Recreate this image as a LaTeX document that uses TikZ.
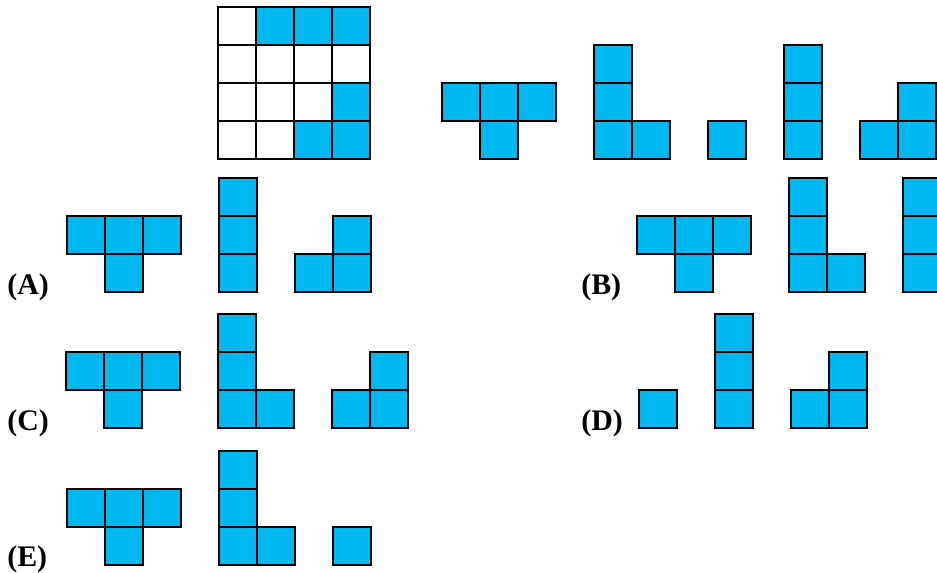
\documentclass[tikz,border=0pt]{standalone}
\usepackage{fontspec}
\setmainfont{Liberation Serif}
\usepackage{xcolor}
\usepackage{tikz}
\definecolor{tileblue}{RGB}{0, 184, 240}

\begin{document}
\begin{tikzpicture}[
    x=0.02cm, y=-0.02cm,
    tile/.style={draw=black, fill=tileblue, line width=0.9pt},
    blank/.style={draw=black, fill=white, line width=0.9pt},
    lbl/.style={anchor=base west, inner sep=0pt, font=\fontsize{17}{17}\selectfont\bfseries}
]
\clip (0,0) rectangle (937,573);

% 4x4 board
\foreach \i in {0,...,3}
  \foreach \j in {0,...,3}
    \draw[blank] (218+38*\i,7+38*\j) rectangle ++(38,38);
\foreach \x/\y in {256/7, 294/7, 332/7, 332/83, 294/121, 332/121}
  \draw[tile] (\x,\y) rectangle ++(38,38);

% Given pieces
\foreach \x/\y in {442/83, 480/83, 518/83, 480/121,
                   594/45, 594/83, 594/121, 632/121,
                   708/121,
                   784/45, 784/83, 784/121,
                   898/83, 860/121, 898/121}
  \draw[tile] (\x,\y) rectangle ++(38,38);

% Option A
\foreach \x/\y in {67/216, 105/216, 143/216, 105/254,
                   219/178, 219/216, 219/254,
                   333/216, 295/254, 333/254}
  \draw[tile] (\x,\y) rectangle ++(38,38);
\node[lbl] (optA) at (7,295) {(A)};

% Option B
\foreach \x/\y in {637/216, 675/216, 713/216, 675/254,
                   789/178, 789/216, 789/254, 827/254,
                   903/178, 903/216, 903/254}
  \draw[tile] (\x,\y) rectangle ++(38,38);
\node[lbl] (optB) at (581,295) {(B)};

% Option C
\foreach \x/\y in {66/352, 104/352, 142/352, 104/390,
                   218/314, 218/352, 218/390, 256/390,
                   370/352, 332/390, 370/390}
  \draw[tile] (\x,\y) rectangle ++(38,38);
\node[lbl] (optC) at (7,431) {(C)};

% Option D
\foreach \x/\y in {639/390,
                   715/314, 715/352, 715/390,
                   829/352, 791/390, 829/390}
  \draw[tile] (\x,\y) rectangle ++(38,38);
\node[lbl] (optD) at (581,431) {(D)};

% Option E
\foreach \x/\y in {67/489, 105/489, 143/489, 105/527,
                   219/451, 219/489, 219/527, 257/527,
                   333/527}
  \draw[tile] (\x,\y) rectangle ++(38,38);
\node[lbl] (optE) at (7,567) {(E)};
\end{tikzpicture}
\end{document}
